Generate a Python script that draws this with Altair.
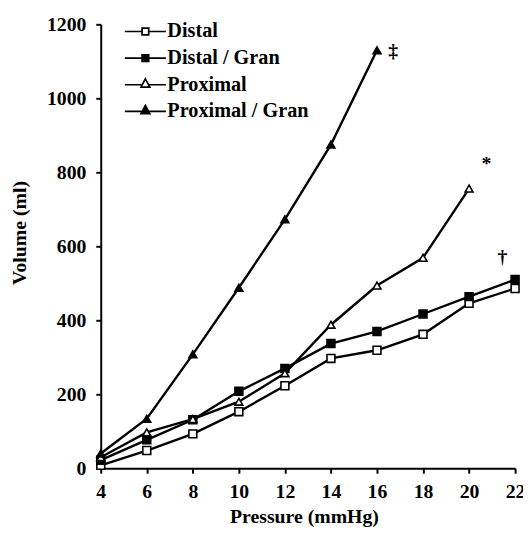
import altair as alt
import pandas as pd

pressure = [4, 6, 8, 10, 12, 14, 16, 18, 20, 22]
series_names = ["Distal", "Distal / Gran", "Proximal", "Proximal / Gran"]
distal = [8, 48, 93, 153, 223, 297, 319, 362, 446, 486]
distal_gran = [22, 77, 131, 208, 270, 337, 370, 417, 464, 510]
proximal = [30, 97, 133, 180, 257, 388, 494, 569, 756]
proximal_gran = [40, 134, 308, 488, 673, 875, 1130]

ann_text = ["‡", "*", "†"]
ann_x = [16.7, 20.75, 21.45]
ann_y = [1128, 822, 572]

x_ticks = [4, 6, 8, 10, 12, 14, 16, 18, 20, 22]
y_ticks = [0, 200, 400, 600, 800, 1000, 1200]

rows = []
for name, vals in zip(series_names, [distal, distal_gran, proximal, proximal_gran]):
    for p, v in zip(pressure, vals):
        rows.append({"Pressure": p, "Volume": v, "series": name, "lg": name})
df = pd.DataFrame(rows)
ann = pd.DataFrame({"t": ann_text, "x": ann_x, "y": ann_y})

FONT = "Liberation Serif"

xs = alt.Scale(domain=[4, 22], nice=False, zero=False)
ys = alt.Scale(domain=[0, 1200], nice=False)

x_enc = alt.X("Pressure:Q", scale=xs, axis=alt.Axis(
    values=x_ticks, title="Pressure (mmHg)", labelPadding=9, labelFlush=False, format="d",
    titleX=206, titleY=49, titleBaseline="middle", titleAlign="center"))
y_enc = alt.Y("Volume:Q", scale=ys, axis=alt.Axis(
    values=y_ticks, title="Volume (ml)", labelPadding=10, labelFlush=False, format="d",
    titleX=-82, titleY=211, titleBaseline="middle", titleAlign="center", titleAngle=-90))

lines = alt.Chart(df).mark_line(color="black", strokeWidth=2.4).encode(
    x=x_enc, y=y_enc, detail="series:N")

points = alt.Chart(df).mark_point(filled=True, stroke="black", strokeWidth=1.6, opacity=1).encode(
    x=alt.X("Pressure:Q", scale=xs),
    y=alt.Y("Volume:Q", scale=ys),
    shape=alt.Shape("series:N", scale=alt.Scale(domain=series_names,
                    range=["square", "square", "triangle-up", "triangle-up"]), legend=None),
    fill=alt.Fill("series:N", scale=alt.Scale(domain=series_names,
                  range=["white", "black", "white", "black"]), legend=None),
    size=alt.Size("series:N", scale=alt.Scale(domain=series_names,
                  range=[64, 64, 110, 110]), legend=None),
)

sq = "M-2.6,0L-0.42,0M0.42,0L2.6,0M-0.42,-0.42L0.42,-0.42L0.42,0.42L-0.42,0.42Z"
tri = "M-2.6,0L-0.4,0M0.4,0L2.6,0M0,-0.75L0.56,0.3L-0.56,0.3Z"

leg = dict(orient="none", legendX=35, legendY=-3, title=None, padding=0,
           labelFont=FONT, labelFontSize=20.5, labelFontWeight="bold", labelColor="black",
           symbolSize=256, symbolStrokeColor="black", symbolStrokeWidth=1.7,
           symbolOpacity=1, labelOffset=12, rowPadding=6)

legend_layer = alt.Chart(df).transform_filter("datum.Volume < 0").mark_point(
    filled=True, stroke="black", strokeWidth=1.7, opacity=1).encode(
    x=alt.X("Pressure:Q", scale=xs),
    y=alt.Y("Volume:Q", scale=ys),
    shape=alt.Shape("lg:N", scale=alt.Scale(domain=series_names, range=[sq, sq, tri, tri]),
                    legend=alt.Legend(**leg)),
    fill=alt.Fill("lg:N", scale=alt.Scale(domain=series_names,
                  range=["white", "black", "white", "black"]), legend=alt.Legend(**leg)),
    stroke=alt.Stroke("lg:N", scale=alt.Scale(domain=series_names,
                      range=["black", "black", "black", "black"]), legend=alt.Legend(**leg)),
)

texts = alt.Chart(ann).mark_text(font=FONT, fontSize=20, fontWeight="bold", color="black").encode(
    x=alt.X("x:Q", scale=xs), y=alt.Y("y:Q", scale=ys), text="t:N")

chart = alt.layer(lines, points, legend_layer, texts).resolve_scale(
    shape="independent", fill="independent", size="independent", stroke="independent"
).properties(
    width=420, height=450,
    autosize=alt.AutoSizeParams(type="none"),
    padding={"left": 94, "top": 13, "right": 8, "bottom": 58},
).configure_view(stroke=None).configure_axis(
    grid=False, domainColor="black", domainWidth=2, tickColor="black", tickWidth=2,
    tickSize=5, labelFont=FONT, labelFontSize=20, labelFontWeight="bold", labelColor="black",
    titleFont=FONT, titleFontSize=20, titleFontWeight="bold", titleColor="black",
)

chart.save("out.html", embed_options={"renderer": "svg", "actions": False})
